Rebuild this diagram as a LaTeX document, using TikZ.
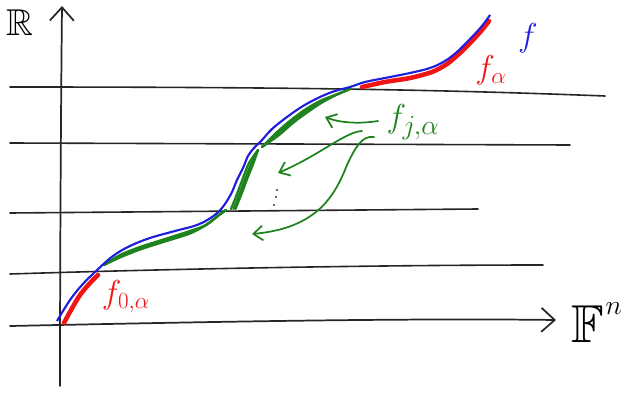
\documentclass[tikz,border=0pt]{standalone}
\usepackage{amssymb}
\usetikzlibrary{arrows.meta}
\definecolor{gblue}{RGB}{30,30,220}
\definecolor{gred}{RGB}{240,20,20}
\definecolor{ggreen}{RGB}{30,130,30}
\tikzset{
  hline/.style={line width=1.2pt, black!85, line cap=round},
  axisline/.style={line width=1.3pt, black!85, line cap=round, -{Straight Barb[length=10pt,width=18pt,line width=1.3pt]}},
  fcurve/.style={line width=1.6pt, gblue},
  redpart/.style={line width=3.4pt, gred, line cap=round},
  greenpart/.style={line width=1.7pt, ggreen, line cap=round},
  garrow/.style={line width=1.3pt, ggreen, line cap=round, -{Straight Barb[length=7pt,width=11pt,line width=1.3pt]}},
  lbl/.style={inner sep=0pt},
}
\begin{document}
\begin{tikzpicture}[x=0.75pt,y=-0.75pt]
\useasboundingbox (0,0) rectangle (627,392);
% horizontal lines
\draw[hline] (10,87) .. controls (300,87) and (450,90) .. (605,96);
\draw[hline] (10,143) -- (570,145);
\draw[hline] (10,213) -- (478,209);
\draw[hline] (10,274) .. controls (200,268) and (400,265) .. (543,265);
% axes
\coordinate (ybot) at (60,386);
\coordinate (ytop) at (62,6);
\coordinate (xl) at (10,326);
\coordinate (xr) at (556,320);
\draw[axisline] (ybot) .. controls (60,250) and (61,100) .. (ytop);
\draw[axisline] (xl) .. controls (200,322) and (400,318) .. (xr);
\node[lbl, font=\fontsize{28}{30}\selectfont] (R) at (20,23) {$\mathbb{R}$};
\node[lbl, anchor=west, font=\fontsize{40}{42}\selectfont] (F) at (571,324) {$\mathbb{F}$};
\node[lbl, anchor=north west, font=\fontsize{22}{24}\selectfont, xshift=1pt, yshift=2pt] (n) at (F.north east) {$n$};
% red parts
\draw[redpart] plot[smooth] coordinates {(64,323) (71,310) (80,295) (90,283) (98,275)};
\draw[redpart] plot[smooth] coordinates {(362,87) (385,82) (410,78) (432,72) (447,64) (460,53) (472,41) (482,30) (489,21)};
% green parts
\foreach \d in {0,2.5,5}{
  \draw[greenpart] plot[smooth] coordinates {(104,265) (120,255+\d/2) (140,247+\d/2) (165,239+\d/2) (190,231+\d/2) (206,225) (219,215) (226,210)};
}
\foreach \d in {0,2.5,4.5}{
  \draw[greenpart] plot[smooth] coordinates {(231+\d,209) (237+\d,194) (243+\d,178) (249+\d,163) (258,150)};
}
\foreach \d in {0,2.5,5}{
  \draw[greenpart] plot[smooth] coordinates {(262,147) (276+\d/2,133+\d/2) (291+\d/2,120+\d/2) (306+\d/2,109+\d/2) (322,100+\d/2) (338,94) (350,89)};
}
% blue curve f
\draw[fcurve] plot[smooth, tension=0.6] coordinates {(57,321) (70,300) (82,285) (95,272) (113,256) (130,246) (150,238) (175,231) (197,225) (212,217) (222,208) (231,194) (237,180) (243,168) (248,156) (254,148) (262,140) (272,129) (287,117) (303,106) (320,97) (335,91) (350,87) (365,82) (385,78) (410,73) (430,68) (445,61) (458,51) (470,39) (482,26) (490,15)};
% labels
\node[lbl, text=gblue, font=\fontsize{28}{30}\selectfont] (f) at (528,38) {$f$};
\node[lbl, text=gred, font=\fontsize{25}{27}\selectfont] (fa) at (491,70) {$f_{\alpha}$};
\node[lbl, text=gred, font=\fontsize{25}{27}\selectfont] (f0a) at (126,297) {$f_{0,\alpha}$};
\node[lbl, text=ggreen, font=\fontsize{29}{31}\selectfont] (fja) at (413,122) {$f_{j,\alpha}$};
% green arrows
\coordinate (a1s) at (378,121);
\coordinate (a1e) at (325,117);
\coordinate (a2s) at (362,131);
\coordinate (a2e) at (278,173);
\coordinate (a3s) at (374,137);
\coordinate (a3m) at (347,165);
\coordinate (a3e) at (252,234);
\draw[garrow] (a1s) .. controls (360,124) and (340,123) .. (a1e);
\draw[garrow] (a2s) .. controls (345,132) and (320,155) .. (a2e);
\draw[garrow] (a3s) .. controls (362,135) and (355,148) .. (a3m) .. controls (335,195) and (318,228) .. (a3e);
% vertical dots
\foreach \p [count=\i] in {(277,190),(276,197),(274,205)}{
  \fill[black!80] \p circle (1.2);
}
\end{tikzpicture}
\end{document}
